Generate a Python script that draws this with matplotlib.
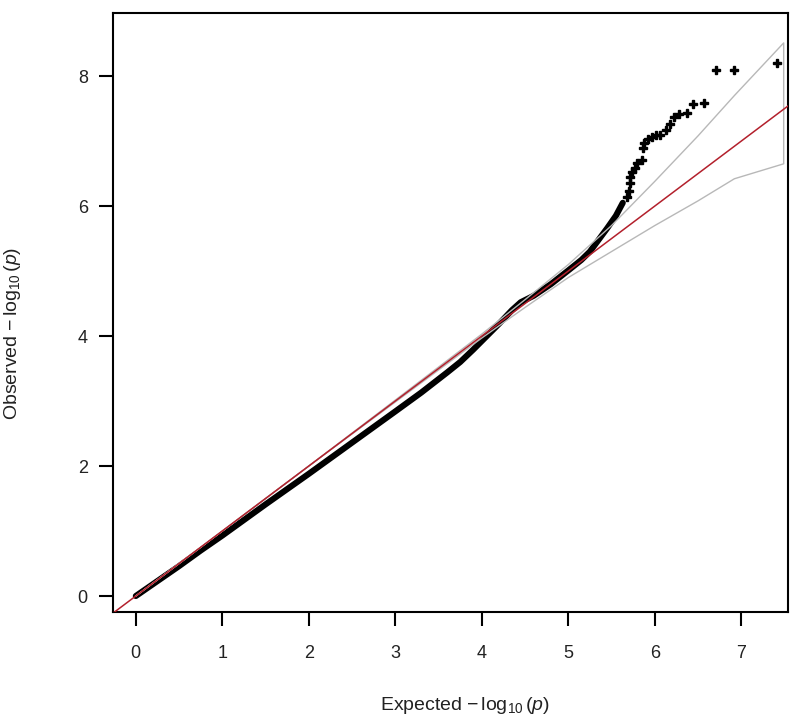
import numpy as np
import matplotlib.pyplot as plt

plt.rcParams['font.family'] = ['Liberation Sans', 'DejaVu Sans']
plt.rcParams['mathtext.fontset'] = 'custom'
plt.rcParams['mathtext.rm'] = 'Liberation Sans'
plt.rcParams['mathtext.it'] = 'Liberation Sans:italic'

# dense body of the QQ curve (expected, observed -log10 p)
body_exp = [0, 0.25, 0.5, 0.75, 1.0, 1.5, 2.0, 2.5, 3.0, 3.3, 3.6, 3.75, 3.9, 4.05, 4.2,
            4.35, 4.45, 4.6, 4.8, 5.0, 5.15, 5.25, 5.35, 5.45, 5.55, 5.63]
body_obs = [0, 0.23, 0.46, 0.7, 0.93, 1.41, 1.88, 2.36, 2.84, 3.13, 3.44, 3.6, 3.79, 3.99, 4.19,
            4.4, 4.52, 4.62, 4.8, 5.01, 5.17, 5.3, 5.48, 5.66, 5.85, 6.05]

# sparse top tail
tail_exp = [5.68, 5.70, 5.71, 5.71, 5.74, 5.77, 5.80, 5.85, 5.86, 5.88, 5.92, 5.97,
            6.01, 6.06, 6.13, 6.18, 6.22, 6.28, 6.37, 6.44, 6.57, 6.71, 6.92, 7.41]
tail_obs = [6.14, 6.23, 6.35, 6.45, 6.52, 6.59, 6.66, 6.71, 6.89, 6.97, 7.03, 7.06,
            7.09, 7.09, 7.17, 7.27, 7.37, 7.41, 7.43, 7.57, 7.58, 8.09, 8.09, 8.20]

# confidence band
ci_exp = [0, 2.0, 4.0, 4.5, 5.0, 5.5, 6.0, 6.5, 6.92, 7.49]
ci_upper = [0, 2.0, 4.03, 4.56, 5.1, 5.7, 6.38, 7.08, 7.7, 8.51]
ci_lower = [0, 2.0, 3.97, 4.44, 4.9, 5.3, 5.7, 6.08, 6.42, 6.65]

fig = plt.figure(figsize=(8, 7.24), dpi=100)
ax = fig.add_axes([0.141, 0.1547, 0.844, 0.8273])

ax.plot(body_exp, body_obs, color='black', lw=4.4, solid_capstyle='round', zorder=2)
ax.plot(tail_exp, tail_obs, linestyle='none', marker='P', ms=5.5, color='black', zorder=2)

ax.axline((0, 0), slope=1, color='#b3202c', lw=1.1, zorder=3)

band_x = ci_exp + ci_exp[::-1]
band_y = ci_upper + ci_lower[::-1]
ax.plot(band_x, band_y, color='#b8b8b8', lw=1.0, zorder=2.5)

ax.set_xlim(-0.266, 7.54)
ax.set_ylim(-0.246, 8.97)
ax.set_xticks(range(8))
ax.set_yticks([0, 2, 4, 6, 8])

for s in ax.spines.values():
    s.set_linewidth(1.5)
ax.tick_params(direction='out', length=10, width=1.5, labelsize=13, labelcolor='#222222')
ax.tick_params(axis='x', pad=14)
ax.tick_params(axis='y', pad=8)

ax.set_xlabel(r'Expected $-\,\log_{10}(p)$', fontsize=14, color='#222222')
ax.set_ylabel(r'Observed $-\,\log_{10}(p)$', fontsize=14, color='#222222')
ax.xaxis.set_label_coords((465 - 113) / 675, -(695 - 612) / 599)
ax.yaxis.set_label_coords(-(113 - 23) / 675, (612 - 333) / 599)

fig.savefig('out.png', dpi=100)
